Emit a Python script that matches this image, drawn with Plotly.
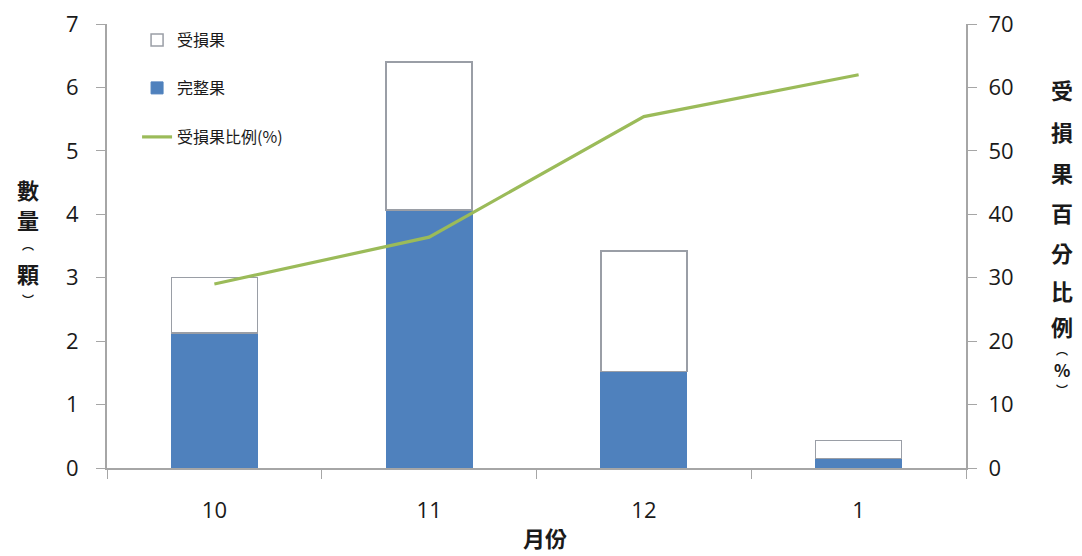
import plotly.graph_objects as go

months = ["10", "11", "12", "1"]
intact = [2.13, 4.07, 1.52, 0.15]
damaged = [0.87, 2.33, 1.90, 0.28]
damaged_pct = [29.0, 36.4, 55.4, 62.0]

left_title = ["數", "量", "︵", "顆", "︶"]
right_title = ["受", "損", "果", "百", "分", "比", "例", "︵", "%", "︶"]

AX = "#a6a6a6"
TICKFONT = dict(family="Open Sans, Liberation Sans, sans-serif", size=22, color="#1a1a1a")
CJK = "Noto Sans CJK TC"

W, H = 1074, 548
L, R, T, B = 99, 116, 16, 88
PW, PH = W - L - R, H - T - B

fig = go.Figure()
fig.add_trace(go.Bar(x=months, y=intact, name="完整果", marker=dict(color="#4f81bd", line=dict(color="#4f81bd", width=1)), legend="legend2"))
fig.add_trace(go.Bar(x=months, y=damaged, name="受損果", marker=dict(color="white", line=dict(color="#9a9ea6", width=1.5)), legend="legend"))
fig.add_trace(go.Scatter(x=months, y=damaged_pct, name="受損果比例(%)", mode="lines", line=dict(color="#9bbb59", width=3.2), yaxis="y2", legend="legend3"))

legfont = dict(family=CJK, size=16, color="#1a1a1a")
def leg(ypix):
    return dict(x=0.035, y=1 - (ypix - 8 - T) / PH, xanchor="left", yanchor="middle", bgcolor="rgba(0,0,0,0)",
                font=legfont, itemwidth=30, tracegroupgap=0)

fig.update_layout(
    width=W, height=H,
    margin=dict(l=L, r=R, t=T, b=B, autoexpand=False),
    paper_bgcolor="white", plot_bgcolor="white",
    barmode="stack", bargap=0.6,
    showlegend=True,
    legend=leg(40), legend2=leg(88), legend3=leg(137),
    xaxis=dict(type="category", showline=True, linecolor=AX, linewidth=1.5, ticks="outside", tickson="boundaries",
               ticklen=9, tickcolor=AX, tickfont=TICKFONT, showgrid=False, zeroline=False, ticklabelstandoff=22,
               automargin=False),
    yaxis=dict(range=[0, 7], dtick=1, showline=True, linecolor=AX, linewidth=1.5,
               ticks="outside", ticklen=9, tickcolor=AX, tickfont=TICKFONT, showgrid=False, zeroline=False,
               ticksuffix="\u2002\u200a", ticklabeloverflow="allow", automargin=False),
    yaxis2=dict(range=[0, 70], dtick=10, overlaying="y", side="right", showline=True,
                linecolor=AX, linewidth=1.5, ticks="outside", ticklen=9, tickcolor=AX, tickfont=TICKFONT,
                showgrid=False, zeroline=False, tickprefix="\u2009\u2009", ticklabeloverflow="allow",
                automargin=False),
    font=dict(family=CJK),
)

def px_to_paper(xp, yp):
    return (xp - 8 - L) / PW, 1 - (yp - 8 - T) / PH

ax_, ay_ = px_to_paper(545, 537)
fig.add_annotation(text="<b>月份</b>", xref="paper", yref="paper", x=ax_, y=ay_, yanchor="middle", showarrow=False,
                   font=dict(family=CJK, size=22, color="#1a1a1a"))

def add_char(ch, xp, yp, size):
    xx, yy = px_to_paper(xp, yp)
    fig.add_annotation(text="<b>" + ch + "</b>", xref="paper", yref="paper", x=xx, y=yy, xanchor="center",
                       yanchor="middle", showarrow=False, borderpad=0,
                       font=dict(family=CJK, size=size, color="#1a1a1a"))

left_y = [189, 219, 244, 273, 299]
left_s = [22, 22, 12, 22, 12]
for ch, yp, s in zip(left_title, left_y, left_s):
    add_char(ch, 28, yp, s)

right_y = [89, 131, 172, 212, 252, 290, 326, 349, 369, 389]
right_s = [22, 22, 22, 22, 22, 22, 22, 12, 17, 12]
for ch, yp, s in zip(right_title, right_y, right_s):
    add_char(ch, 1062, yp, s)

fig.write_html("out.html")
